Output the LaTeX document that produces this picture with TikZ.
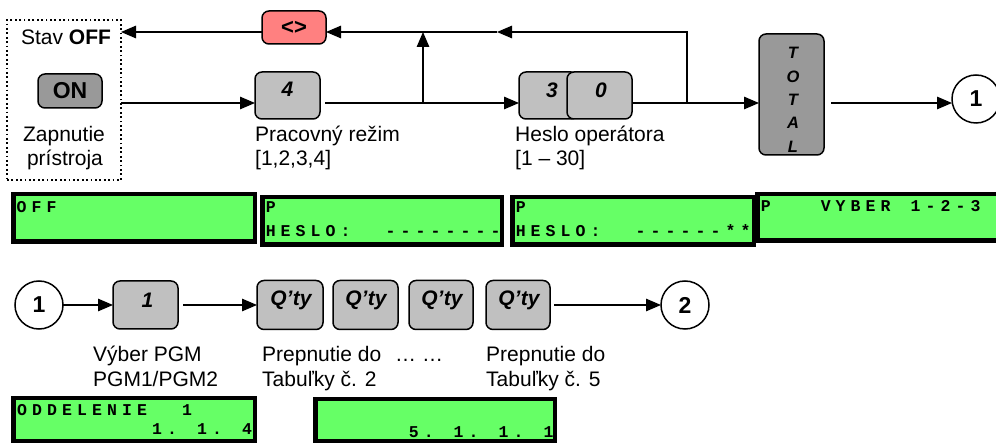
\documentclass[tikz,border=0pt]{standalone}
\usepackage{fontspec}
\setmainfont{Liberation Sans}
\newfontfamily\lcdfont{Liberation Mono}
\usetikzlibrary{arrows.meta}
\definecolor{lcdgreen}{HTML}{66FF66}
\definecolor{btnlight}{HTML}{C0C0C0}
\definecolor{btndark}{HTML}{999999}
\definecolor{btnred}{HTML}{FF8080}
\ExplSyntaxOn
\NewDocumentCommand\lcdtext{m}{\tl_map_inline:nn{#1}{\makebox[15pt][c]{##1}}}
\ExplSyntaxOff
\begin{document}
\begin{tikzpicture}[x=1pt,y=-1pt,
  btn/.style={draw, line width=1.5pt, rounded corners=7pt, fill=btnlight, inner sep=0pt, outer sep=0pt},
  grpbox/.style={draw, line width=1.8pt, dash pattern=on 1.8pt off 2.6pt, inner sep=0pt, outer sep=0pt},
  conn/.style={line width=1.3pt, -{Triangle[length=15pt,width=12.5pt]}},
  lbl/.style={font=\fontsize{21}{24}\selectfont, inner sep=0pt, anchor=base west},
  key/.style={font=\fontsize{21}{24}\selectfont\bfseries\itshape, inner sep=0pt},
  totl/.style={font=\fontsize{16.5}{17}\selectfont\bfseries\itshape, inner sep=0pt},
  circ/.style={circle, draw, line width=1.5pt, minimum size=48pt, inner sep=0pt, outer sep=0pt, fill=white, font=\fontsize{23}{24}\selectfont\bfseries},
  lcd/.style={draw=black, line width=4.5pt, fill=lcdgreen},
  lcdt/.style={font=\fontsize{16.5}{17}\selectfont\lcdfont\bfseries, inner sep=0pt, anchor=base west},
]
\useasboundingbox (0,0) rectangle (996,443);

% ---------- top row ----------
\node[grpbox, minimum width=114pt, minimum height=160pt] (grp) at (64,100) {};
\node[lbl, anchor=base] (stav) at (66,45) {Stav \textbf{OFF}};
\node[btn, fill=btndark, minimum width=64pt, minimum height=34pt, font=\fontsize{23}{24}\selectfont\bfseries] (on) at (70,91) {ON};
\node[lbl, anchor=base] (zap1) at (64,142) {Zapnutie};
\node[lbl, anchor=base] (zap2) at (65,166) {prístroja};

\node[btn, fill=btnred, minimum width=64pt, minimum height=33pt, font=\fontsize{22}{24}\selectfont\bfseries] (neq) at (294,27.5) {<>};

\node[btn, minimum width=65pt, minimum height=47pt] (k4) at (287.5,95.5) {};
\node[key] (k4t) at (287.5,89.5) {4};
\node[lbl] (l4a) at (255,142) {Pracovný režim};
\node[lbl] (l4b) at (255,166) {[1,2,3,4]};

\node[btn, minimum width=59pt, minimum height=47pt] (k3) at (548.5,95.5) {};
\node[key] (k3t) at (552,90) {3};
\node[btn, minimum width=65pt, minimum height=47pt] (k0) at (599.5,95.5) {};
\node[key] (k0t) at (601,90) {0};
\node[lbl] (l3a) at (515,142) {Heslo operátora};
\node[lbl] (l3b) at (515,166) {[1 – 30]};

\node[btn, fill=btndark, minimum width=65pt, minimum height=121pt] (tot) at (791.5,94.5) {};
\node[totl] (tt1) at (793,53) {T};
\node[totl] (tt2) at (793,77) {O};
\node[totl] (tt3) at (793,100) {T};
\node[totl] (tt4) at (793,123) {A};
\node[totl] (tt5) at (793,147) {L};

\node[circ] (c1a) at (976,99) {1};

\coordinate (m) at (0,103);
\coordinate (j1) at (423,103);
\coordinate (j1t) at (423,32);
\coordinate (j2) at (687,103);
\coordinate (j2t) at (687,32);
\coordinate (mid) at (497,32);

\draw[conn] (grp.east |- m) -- (k4.west |- m);
\draw[conn, shorten <=5pt] (k4.east |- m) -- (k3.west |- m);
\draw[conn] (j1) -- (j1t);
\draw[conn] (k0.east |- m) -- (tot.west |- m);
\draw[conn] (j2) -- (j2t) -- (mid);
\draw[conn] (mid) -- (neq.east |- mid);
\draw[conn] (neq.west |- mid) -- (grp.east |- mid);
\draw[conn, shorten <=7pt] (tot.east |- m) -- (c1a.west |- m);

% ---------- displays, row 1 ----------
\draw[lcd] (13.25,194.25) rectangle (254.75,241.75);
\node[lcdt] (d1a) at (14,213) {\lcdtext{OFF}};
\draw[lcd] (262.25,197.25) rectangle (501.75,244.75);
\node[lcdt] (d2a) at (263,213) {\lcdtext{P}};
\node[lcdt] (d2b) at (263,237) {\lcdtext{HESLO:~~--------}};
\draw[lcd] (512.25,197.25) rectangle (753.75,244.75);
\node[lcdt] (d3a) at (513,213) {\lcdtext{P}};
\node[lcdt] (d3b) at (513,237) {\lcdtext{HESLO:~~------**}};
\draw[lcd] (757.25,194.25) rectangle (1010,240.75);
\node[lcdt] (d4a) at (758,212) {\lcdtext{P~~~VYBER~1-2-3}};

% ---------- second row ----------
\node[circ] (c1b) at (39,305) {1};
\node[btn, minimum width=65pt, minimum height=48pt] (b1) at (145.5,305) {};
\node[key] (b1t) at (147.5,300) {1};
\node[btn, minimum width=66pt, minimum height=49pt] (q1) at (290,305) {};
\node[key] (q1t) at (291,300) {Q’ty};
\node[btn, minimum width=65pt, minimum height=49pt] (q2) at (365.5,305) {};
\node[key] (q2t) at (366,300) {Q’ty};
\node[btn, minimum width=64pt, minimum height=49pt] (q3) at (441,305) {};
\node[key] (q3t) at (442,300) {Q’ty};
\node[btn, minimum width=64pt, minimum height=49pt] (q4) at (518,305) {};
\node[key] (q4t) at (519,300) {Q’ty};
\node[circ] (c2) at (685,305) {2};

\draw[conn] (c1b.east) -- (b1.west);
\draw[conn, shorten <=5pt] (b1.east) -- (q1.west);
\draw[conn, shorten <=4pt] (q4.east) -- (c2.west);

\node[lbl] (v1) at (93,362) {Výber PGM};
\node[lbl] (v2) at (93,387) {PGM1/PGM2};
\node[lbl] (p1) at (262,362) {Prepnutie do};
\node[lbl] (p2) at (262,387) {Tabuľky č. 2};
\node[lbl] (dots) at (395,362) {… …};
\node[lbl] (p3) at (486,362) {Prepnutie do};
\node[lbl] (p4) at (486,387) {Tabuľky č. 5};

% ---------- displays, row 2 ----------
\draw[lcd] (13.25,398.25) rectangle (254.75,440.75);
\node[lcdt] (d5a) at (14.5,416) {\lcdtext{ODDELENIE~~1}};
\node[lcdt] (d5b) at (14.5,435) {\lcdtext{~~~~~~~~~1.~1.~4}};
\draw[lcd] (315.25,399.25) rectangle (554.75,440.75);
\node[lcdt] (d6b) at (316,437) {\lcdtext{~~~~~~5.~1.~1.~1}};
\end{tikzpicture}
\end{document}
